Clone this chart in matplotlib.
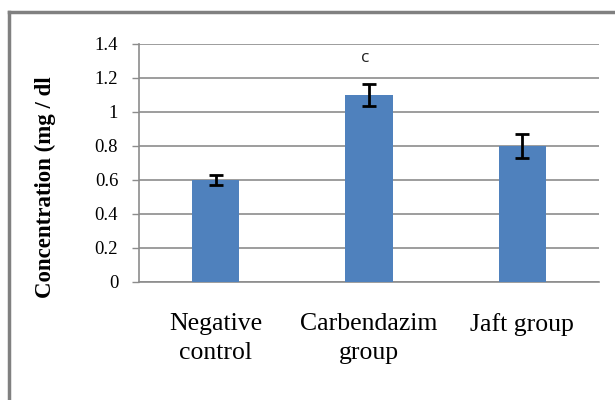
import matplotlib
matplotlib.use("Agg")
import matplotlib.pyplot as plt
from matplotlib.lines import Line2D
import numpy as np

# data
groups = ["Negative\ncontrol", "Carbendazim\ngroup", "Jaft group"]
means = [0.6, 1.1, 0.8]
errors = [0.03, 0.065, 0.068]
letters = ["", "c", ""]
y_ticks = [0, 0.2, 0.4, 0.6, 0.8, 1, 1.2, 1.4]
y_tick_labels = ["0", "0.2", "0.4", "0.6", "0.8", "1", "1.2", "1.4"]

bar_color = "#4F81BD"
grid_color = "#8C8C8C"

fig = plt.figure(figsize=(6.15, 4.0), dpi=100)
ax = fig.add_axes([139 / 615, 1 - 282 / 400, (599 - 139) / 615, (282 - 44) / 400])

x = np.arange(len(groups))
ax.bar(x, means, width=0.31, color=bar_color, zorder=3)
ax.errorbar(x, means, yerr=errors, fmt="none", ecolor="black",
            elinewidth=2, capsize=4.7, capthick=2, zorder=4)

for xi, m, e, lab in zip(x, means, errors, letters):
    if lab:
        ax.annotate(lab, (xi, m + e), xytext=(-3, 19), textcoords="offset points",
                    ha="center", va="center", fontsize=12.5, family="Open Sans",
                    color="#222222")

ax.set_xlim(-0.5, len(groups) - 0.5)
ax.set_ylim(0, 1.4)
ax.set_yticks(y_ticks)
ax.set_yticklabels(y_tick_labels, family="Liberation Serif", fontsize=13.5)
ax.set_xticks(x)
ax.set_xticklabels(groups, family="Liberation Serif", fontsize=18.5, linespacing=1.45)
ax.tick_params(axis="x", length=0, pad=22)
ax.tick_params(axis="y", length=5, width=1, color=grid_color, pad=10)
ax.yaxis.grid(True, color=grid_color, linewidth=1.2, zorder=0)
ax.set_axisbelow(True)

for side in ["top", "right"]:
    ax.spines[side].set_visible(False)
for side in ["left", "bottom"]:
    ax.spines[side].set_color(grid_color)
    ax.spines[side].set_linewidth(1.2)

ax.set_ylabel("Concentration (mg / dl", family="Liberation Serif", fontsize=16.5,
              fontweight="bold")
ax.yaxis.set_label_coords(-0.18, 0.40)

# outer frame of the original picture (only left and top edges visible)
fig.add_artist(Line2D([9 / 615, 9 / 615], [0, 1 - 12 / 400], color="#808080",
                      linewidth=2.5, transform=fig.transFigure))
fig.add_artist(Line2D([9 / 615, 1], [1 - 12 / 400, 1 - 12 / 400], color="#808080",
                      linewidth=2.5, transform=fig.transFigure))

fig.savefig("out.png", dpi=100)
